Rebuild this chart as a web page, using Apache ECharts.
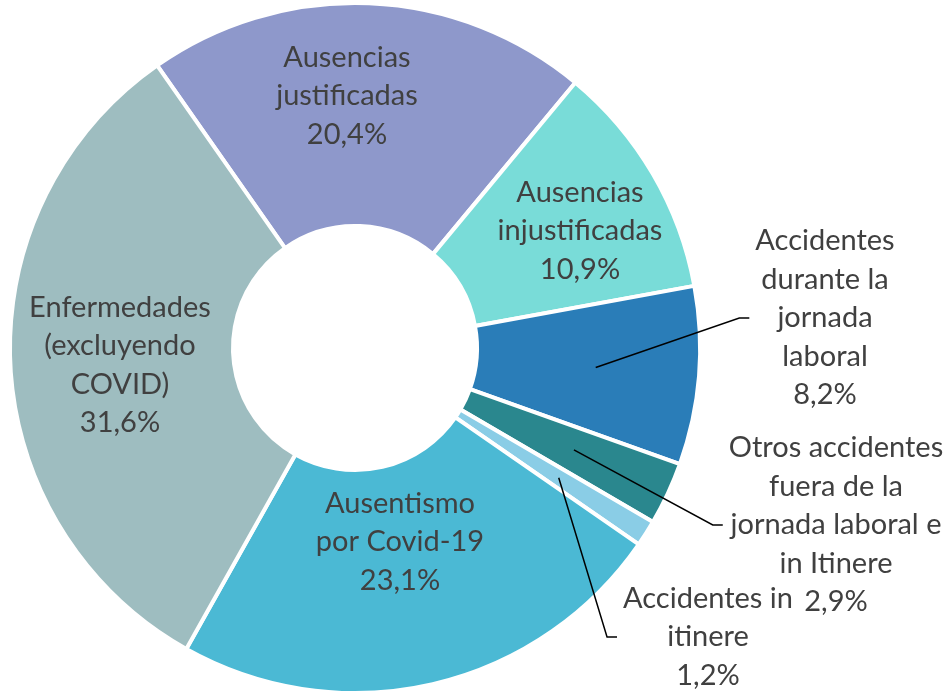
<!DOCTYPE html>
<html>
<head>
<meta charset="utf-8">
<script src="https://cdn.jsdelivr.net/npm/echarts@6/dist/echarts.min.js"></script>
<style>
html,body{margin:0;padding:0;background:#fff;}
#main{width:952px;height:695px;}
</style>
</head>
<body>
<div id="main"></div>
<script>
// categorias (con los saltos de linea del grafico original)
var categorias = [
	'Ausencias\njustificadas',
	'Ausencias\ninjustificadas',
	'Accidentes\ndurante la\njornada\nlaboral',
	'Otros accidentes\nfuera de la\njornada laboral e\nin Itinere',
	'Accidentes in\nitinere',
	'Ausentismo\npor Covid-19',
	'Enfermedades\n(excluyendo\nCOVID)'
];
var porcentajes = [20.4, 10.9, 8.2, 2.9, 1.2, 23.1, 31.6];
var colores = ['#8E98CB', '#79DCD8', '#2A7DB8', '#2A878E', '#8ACDE6', '#4BB9D4', '#9EBDC0'];

// etiquetas con linea guia (sectores pequenos)
var conLinea = [2, 3, 4];
// centro de cada etiqueta en pixeles
var posEtiquetas = [[347, 96], [580, 231], [825, 318], [836, 525], [708, 637], [400, 542], [120, 365]];

function fmt(v){
	return v.toFixed(1).replace('.', ',') + '%';
}

var datos = [];
for(var i = 0; i < categorias.length; i++){
	var guia = conLinea.indexOf(i) >= 0;
	datos.push({
		name: categorias[i],
		value: porcentajes[i],
		itemStyle: {color: colores[i]},
		label: {position: guia ? 'outside' : 'inside'},
		labelLine: {show: guia}
	});
}

var myChart = echarts.init(document.getElementById('main'));

option = {
	animation: false,
	series: [
		{
			type: 'pie',
			center: [355, 348],
			radius: [122, 345],
			startAngle: 125,
			silent: true,
			itemStyle: {borderColor: '#fff', borderWidth: 4},
			label: {
				formatter: function(p){ return p.name + '\n' + fmt(p.value); },
				fontFamily: 'Lato',
				fontSize: 29,
				lineHeight: 38.5,
				color: '#404040',
				align: 'center'
			},
			labelLine: {length: 10, length2: 10, lineStyle: {color: '#000', width: 1.5}},
			labelLayout: function(p){
				var pos = posEtiquetas[p.dataIndex];
				return {x: pos[0], y: pos[1], align: 'center', verticalAlign: 'middle'};
			},
			data: datos
		}
	]
};

myChart.setOption(option);

// las lineas guia salen desde dentro del sector (70% del radio), como en Excel
function ajustarLineas(){
	var data = myChart.getModel().getSeriesByIndex(0).getData();
	conLinea.forEach(function(idx){
		var sector = data.getItemGraphicEl(idx);
		if(!sector) return;
		var linea = sector.getTextGuideLine();
		var texto = sector.getTextContent();
		if(!linea || !texto) return;
		var lay = data.getItemLayout(idx);
		var mid = (lay.startAngle + lay.endAngle) / 2;
		var r = lay.r * 0.7;
		var inicio = [lay.cx + r * Math.cos(mid), lay.cy + r * Math.sin(mid)];
		var rect = texto.getBoundingRect().clone();
		rect.applyTransform(texto.getComputedTransform());
		var y = rect.y + rect.height / 2;
		var borde = rect.x - 6;
		linea.z2 = 100;
		linea.setShape({points: [inicio, [borde - 10, y], [borde, y]]});
		linea.markRedraw();
	});
}
ajustarLineas();
myChart.on('finished', ajustarLineas);
</script>
</body>
</html>
